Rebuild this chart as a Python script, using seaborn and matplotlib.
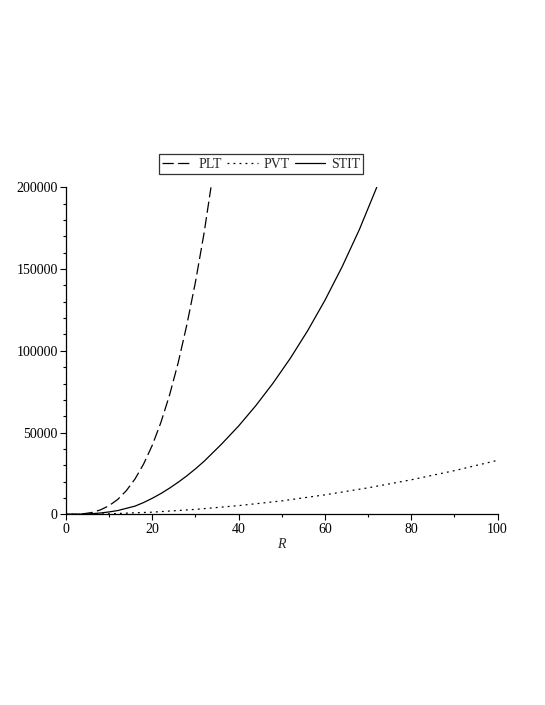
import matplotlib
matplotlib.use("Agg")
import matplotlib.pyplot as plt
from matplotlib.ticker import MultipleLocator
import seaborn as sns
import pandas as pd

# values
r_plt = [0, 2, 4, 6, 8, 10, 12, 14, 16, 18, 20, 22, 24, 26, 28, 30, 32, 33.6]
plt_vals = [0, 0, 300, 1100, 2700, 5300, 9100, 14500, 21600, 30800, 42200,
            56200, 72900, 92700, 115800, 142000, 172000, 200000]

r_pvt = [0, 4, 10, 20, 30, 40, 50, 60, 70, 80, 90, 100]
pvt_vals = [0, 0, 300, 1300, 3000, 5300, 8200, 11900, 16200, 21100, 26700, 33000]

r_stit = [0, 4, 6, 8, 10, 12, 14, 16, 18, 20, 22, 24, 26, 28, 30, 32, 36, 40,
          44, 48, 52, 56, 60, 64, 68, 72]
stit_vals = [0, 100, 380, 800, 1450, 2300, 3650, 5000, 7200, 9800, 12700,
             16000, 19600, 23500, 27800, 32400, 42800, 54000, 66500, 80300,
             95500, 112300, 130900, 151500, 174300, 200000]

df = pd.concat([
    pd.DataFrame({"R": r_plt, "value": plt_vals, "curve": "PLT"}),
    pd.DataFrame({"R": r_pvt, "value": pvt_vals, "curve": "PVT"}),
    pd.DataFrame({"R": r_stit, "value": stit_vals, "curve": "STIT"}),
], ignore_index=True)

sns.set_style("ticks")
plt.rcParams["font.family"] = ["Liberation Serif", "DejaVu Serif"]

fig = plt.figure(figsize=(5.45, 7.05), dpi=100)
ax = fig.add_axes([0.121, 0.2705, 0.792, 0.4638])

styles = {"PLT": (0, (9, 3.5)), "PVT": (0, (1.5, 3.3)), "STIT": "-"}
for name, sub in df.groupby("curve"):
    sns.lineplot(data=sub, x="R", y="value", ax=ax, color="black",
                 linewidth=0.9, linestyle=styles[name], label=name,
                 estimator=None, sort=False)

ax.set_xlim(0, 100)
ax.set_ylim(0, 200000)
ax.xaxis.set_major_locator(MultipleLocator(20))
ax.xaxis.set_minor_locator(MultipleLocator(10))
ax.yaxis.set_major_locator(MultipleLocator(50000))
ax.yaxis.set_minor_locator(MultipleLocator(10000))
ax.tick_params(which="major", length=4, width=0.8, labelsize=10, pad=2,
               color="black", labelcolor="black")
ax.tick_params(which="minor", length=2.5, width=0.8, color="black")
sns.despine(ax=ax)
for s in ["left", "bottom"]:
    ax.spines[s].set_linewidth(0.9)
    ax.spines[s].set_color("black")

ax.set_xlabel("R", fontsize=10, style="italic", labelpad=2)
ax.set_ylabel("")

leg = ax.legend(loc="center", bbox_to_anchor=(0.452, 1.071), ncol=3,
                fontsize=10, frameon=True, fancybox=False, handlelength=2.2,
                handletextpad=0.4, columnspacing=0.4, borderpad=0.25,
                borderaxespad=0)
leg.get_frame().set_edgecolor("black")
leg.get_frame().set_linewidth(0.9)

fig.savefig("out.png", dpi=100)
